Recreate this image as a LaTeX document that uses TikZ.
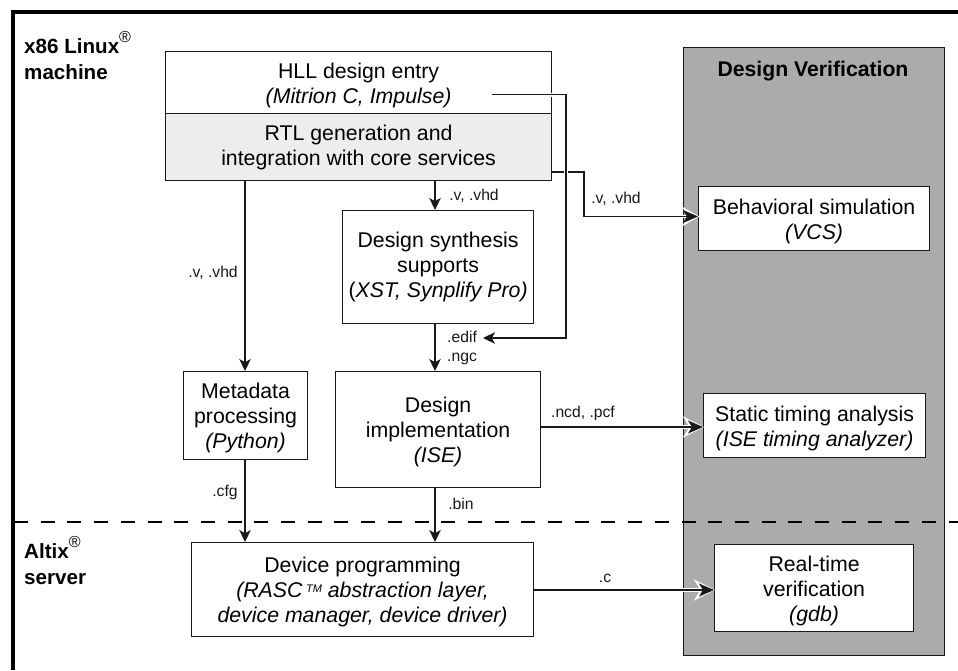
\documentclass[tikz,border=0pt]{standalone}
\usepackage{fontspec}
\setmainfont{Liberation Sans}
\usetikzlibrary{arrows.meta}
\newcommand{\dropfirst}{\rule{0pt}{20.5pt}}
\tikzset{
  px/.style={x=1pt,y=-1pt},
  blockbox/.style={draw=black!90,line width=1.15pt,inner sep=0pt,align=center,font=\fontsize{21.3}{25}\selectfont},
  conn/.style={draw=black!90,line width=1.15pt,-{Stealth[length=12pt,width=11.5pt,inset=3.2pt]}},
  bigconn/.style={draw=black!90,line width=1.15pt,-{Stealth[length=15pt,width=13pt,inset=4pt]}},
  halo/.style={draw=white,line width=3.6pt,-{Stealth[length=21pt,width=21pt,inset=6.5pt]}},
  smallhalo/.style={draw=white,line width=3.6pt,-{Stealth[length=17pt,width=19pt,inset=5pt]}},
  gap/.style={draw=white,line width=4pt},
  tag/.style={font=\fontsize{15.7}{19}\selectfont,inner sep=0pt,align=left,text=black!90},
  zone/.style={font=\bfseries\fontsize{20.6}{26.5}\selectfont,inner sep=0pt,align=left,anchor=north west}
}
\begin{document}
\begin{tikzpicture}[px]
\useasboundingbox (0,0) rectangle (958,670);
\fill[white] (0,0) rectangle (958,670);
% panel
\node[draw=black!90,line width=1.15pt,fill=black!33,minimum width=261pt,minimum height=608pt,inner sep=0pt,anchor=north west] (panel) at (683,47) {};
\node[font=\bfseries\fontsize{21.2}{24}\selectfont,inner sep=0pt] (dvtitle) at (813,71) {Design Verification};
% outer frame
\draw[black,line width=4pt] (12.5,670) -- (12.5,11.5) -- (958,11.5);
% zone divider
\coordinate (divL) at (14,522);
\coordinate (divR) at (958,522);
\draw[black,line width=1.05pt,dash pattern=on 14pt off 12.7pt] (divL) -- (divR);
% zone labels
\node[zone] (linuxlbl) at (24,31) {x86 Linux\raisebox{11pt}{\normalfont\fontsize{16}{16}\selectfont ®}\\machine};
\node[zone] (altixlbl) at (24,536) {Altix\raisebox{11pt}{\normalfont\fontsize{16}{16}\selectfont ®}\\server};
% boxes
\node[blockbox,minimum width=386pt,minimum height=62pt,anchor=north west,fill=white] (hll) at (165,51) {\dropfirst HLL design entry\\\textit{(Mitrion C, Impulse)}};
\node[blockbox,minimum width=386pt,minimum height=67pt,anchor=north west,fill=black!7] (rtl) at (165,113) {RTL generation and\\integration with core services};
\node[blockbox,minimum width=191pt,minimum height=113pt,anchor=north west] (synth) at (342,210) {Design synthesis\\supports\\(\textit{XST, Synplify Pro)}};
\node[blockbox,minimum width=205pt,minimum height=116pt,anchor=north west] (impl) at (335,371) {\dropfirst Design\\implementation\\\textit{(ISE)}};
\node[blockbox,minimum width=124pt,minimum height=88pt,anchor=north west] (meta) at (183,371) {\dropfirst Metadata\\processing\\\textit{(Python)}};
\node[blockbox,minimum width=342pt,minimum height=94pt,anchor=north west] (dev) at (191,542) {\dropfirst Device programming\\\textit{(RASC\,\raisebox{5pt}{\fontsize{11}{11}\selectfont TM} abstraction layer,}\\\textit{device manager, device driver)}};
\node[blockbox,minimum width=231pt,minimum height=64pt,anchor=north west,fill=white] (beh) at (698,186) {\dropfirst Behavioral simulation\\\textit{(VCS)}};
\node[blockbox,minimum width=222pt,minimum height=64pt,anchor=north west,fill=white] (sta) at (703,393) {\dropfirst Static timing analysis\\\textit{(ISE timing analyzer)}};
\node[blockbox,minimum width=199pt,minimum height=87pt,anchor=north west,fill=white] (rtv) at (714,544) {\dropfirst Real-time\\verification\\\textit{(gdb)}};
% connector helpers
\coordinate (hllstart) at (492,94.5);
\coordinate (hllbend) at (566,94.5);
\coordinate (hllend) at (566,338);
\coordinate (edifin) at (483,338);
\coordinate (rtlout) at (551,172);
\coordinate (rtlbendA) at (584,172);
\coordinate (rtlbendB) at (584,216.5);
\coordinate (behin) at (698,216.5);
\coordinate (stain) at (703,427);
\coordinate (rtvin) at (714,590);
% connectors
\draw[conn] (435,180) coordinate (a1) -- (a1 |- synth.north);
\draw[conn] (245,180) coordinate (a2) -- (a2 |- meta.north);
\draw[conn] (435,323) coordinate (a3) -- (a3 |- impl.north);
\draw[conn] (435,487) coordinate (a4) -- (a4 |- dev.north);
\draw[conn] (245,459) coordinate (a5) -- (a5 |- dev.north);
\draw[smallhalo] (640,216.5) -- ([xshift=1.5pt]behin);
\draw[halo] (640,427) -- ([xshift=1pt]stain);
\draw[halo] (660,590) -- ([xshift=1pt]rtvin);
\draw[bigconn] (rtlout) -- (rtlbendA) -- (rtlbendB) -- (behin);
\draw[gap] (hllstart) -- (hllbend) -- (hllend);
\draw[conn] (hllstart) -- (hllbend) -- (hllend) -- (edifin);
\draw[bigconn] (impl.east |- stain) -- (stain);
\draw[bigconn] (dev.east |- rtvin) -- (rtvin);
% tags
\node[tag] (t1) at (474,196) {.v, .vhd};
\node[tag] (t2) at (213,273) {.v, .vhd};
\node[tag] (t3) at (616,199) {.v, .vhd};
\node[tag,anchor=north west] (t4) at (447,331) {.edif\\.ngc};
\node[tag] (t5) at (583,413) {.ncd, .pcf};
\node[tag] (t6) at (461,504) {.bin};
\node[tag] (t7) at (225,492) {.cfg};
\node[tag] (t8) at (605,578) {.c};
\end{tikzpicture}
\end{document}
